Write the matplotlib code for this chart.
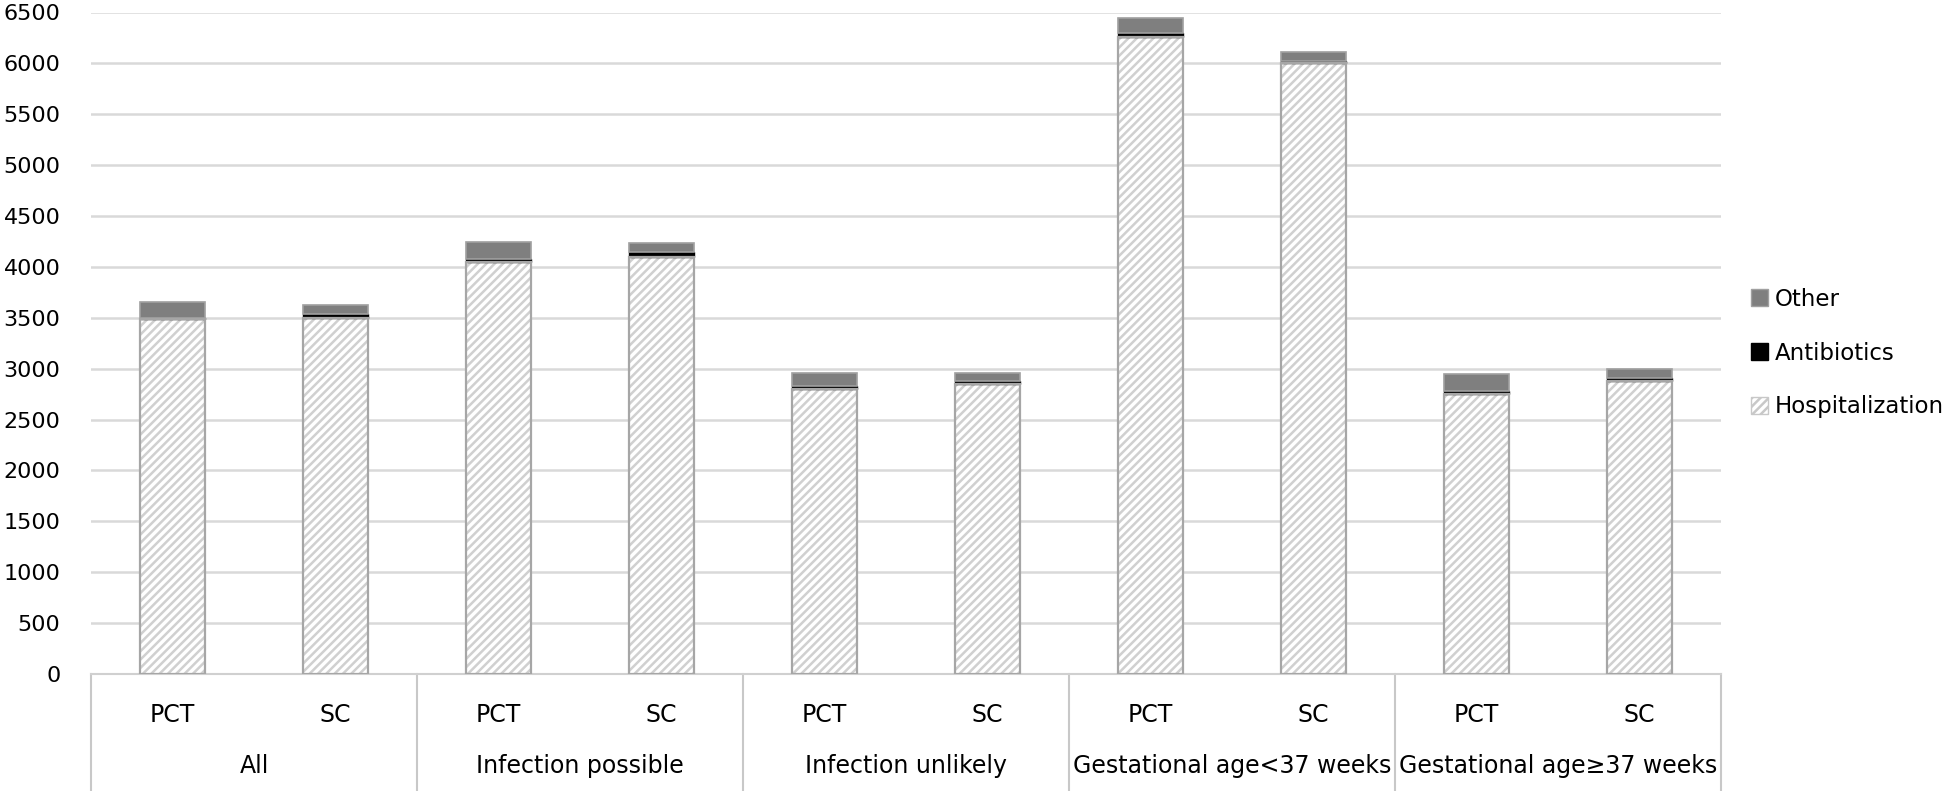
import matplotlib
matplotlib.use("Agg")
import matplotlib.pyplot as plt
import matplotlib.transforms as mtransforms
from matplotlib.patches import Patch
import numpy as np

plt.rcParams['font.family'] = ['DejaVu Sans']
plt.rcParams['hatch.linewidth'] = 1.8

groups = ["All", "Infection possible", "Infection unlikely",
          "Gestational age<37 weeks", "Gestational age≥37 weeks"]
arms = ["PCT", "SC"]
hospitalization = [3490, 3495, 4050, 4100, 2800, 2850, 6260, 6000, 2755, 2880]
antibiotics = [12, 45, 25, 50, 30, 25, 35, 27, 28, 25]
other = [150, 85, 165, 85, 130, 85, 155, 80, 160, 90]
yticks = list(range(0, 6501, 500))

fig = plt.figure(figsize=(19.6, 7.91), dpi=100)
ax = fig.add_axes([91/1960, 117/791, (1721-91)/1960, (674-12.5)/791])

n = len(hospitalization)
x = np.arange(n)
w = 0.4
hosp = np.array(hospitalization)
ab = np.array(antibiotics)
oth = np.array(other)

ax.bar(x, hosp, w, color='white', edgecolor='#d0d0d0', hatch='////', linewidth=0, zorder=3)
ax.bar(x, hosp, w, fill=False, edgecolor='#a6a6a6', linewidth=1.6, zorder=4)
ax.bar(x, ab, w, bottom=hosp, color='black', edgecolor='black', linewidth=1.0, zorder=3)
ax.bar(x, oth, w, bottom=hosp + ab, color='#7f7f7f', edgecolor='#a0a0a0', linewidth=1.2, zorder=3)

ax.set_xlim(-0.5, n - 0.5)
ax.set_ylim(0, 6500)
ax.set_yticks(yticks)
ax.set_yticklabels([str(v) for v in yticks], fontsize=16)
ax.tick_params(axis='y', length=0, pad=22)
ax.yaxis.grid(True, color='#d9d9d9', linewidth=1.8, zorder=0)
ax.set_axisbelow(True)
for s in ['top', 'right', 'left']:
    ax.spines[s].set_visible(False)
ax.spines['bottom'].set_color('#d0d0d0')
ax.spines['bottom'].set_linewidth(1.5)

ax.set_xticks(x)
ax.set_xticklabels([arms[i % 2] for i in range(n)], fontsize=17)
ax.tick_params(axis='x', length=0, pad=21)

trans = mtransforms.blended_transform_factory(ax.transData, ax.transAxes)
for g, name in enumerate(groups):
    ax.text(2 * g + 0.5, -0.139, name, transform=trans, ha='center', va='center', fontsize=17)
for b in range(len(groups) + 1):
    ax.plot([2 * b - 0.5, 2 * b - 0.5], [0, -0.2], transform=trans, color='#c8c8c8',
            linewidth=1.5, clip_on=False, zorder=1)

handles = [Patch(facecolor='#7f7f7f', edgecolor='#a0a0a0', label='Other'),
           Patch(facecolor='black', edgecolor='black', label='Antibiotics'),
           Patch(facecolor='white', edgecolor='#c8c8c8', hatch='////', label='Hospitalization')]
fig.legend(handles=handles, loc='center left', bbox_to_anchor=(1730/1960, 1 - 353/791),
           frameon=False, fontsize=16.5, handlelength=0.75, handleheight=0.75,
           handletextpad=0.3, labelspacing=1.35)

fig.savefig('out.png', dpi=100)
